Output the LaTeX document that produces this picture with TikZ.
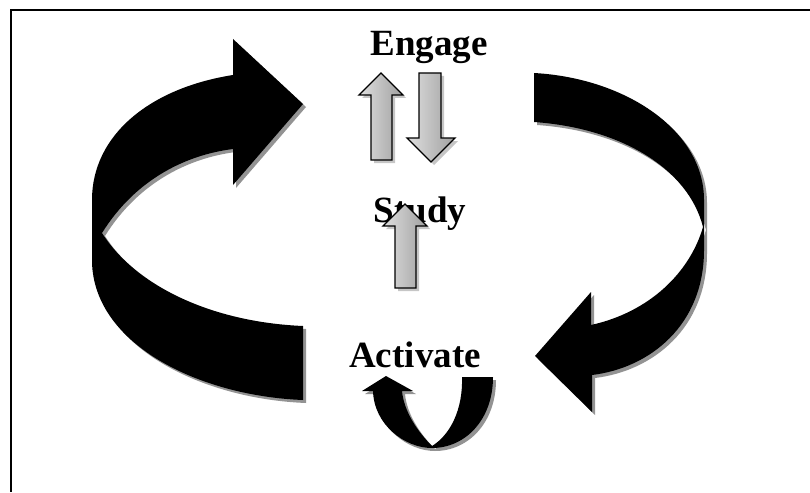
\documentclass[tikz,border=0pt]{standalone}
\usepackage{fontspec}
\setmainfont{Liberation Serif}

% outlines of the big arrows, in pixel units
\newcommand\leftloop{(303,104) -- (233,39) -- (233,75)
  .. controls (150,88) and (92,135) .. (92,200) -- (92,262)
  .. controls (94,345) and (200,396) .. (303,400) -- (303,326)
  .. controls (210,322) and (135,285) .. (102,233)
  .. controls (135,180) and (185,155) .. (233,149) -- (233,185) -- cycle}
\newcommand\rightloop{(534,73) .. controls (625,78) and (704,130) .. (704,200)
  -- (704,250) .. controls (704,325) and (650,368) .. (592,375)
  -- (592,412) -- (535,356) -- (591,292) -- (591,325)
  .. controls (650,312) and (690,272) .. (703,227)
  .. controls (688,168) and (620,128) .. (534,122) -- cycle}
\newcommand\uturn{(386,376) -- (362,391) -- (373,391)
  .. controls (374,425) and (405,448) .. (432,448)
  .. controls (465,448) and (493,420) .. (493,377) -- (462,377)
  .. controls (463,410) and (450,435) .. (432,446)
  .. controls (418,432) and (404,412) .. (402,391) -- (413,391) -- cycle}
\newcommand\blockup[3]{(#1,#2) -- (#1-22,#2+22) -- (#1-10,#2+22) -- (#1-10,#3)
  -- (#1+11,#3) -- (#1+11,#2+22) -- (#1+22,#2+22) -- cycle}
\newcommand\blockdown{(419,73) -- (441,73) -- (441,138) -- (455,138) -- (431,162)
  -- (407,138) -- (419,138) -- cycle}

\begin{document}
\begin{tikzpicture}[x=1pt, y=-1pt,
  label/.style={font=\fontsize{37}{40}\selectfont\bfseries, inner sep=0pt, anchor=base},
  ribbon/.style={fill=black},
  drop/.style={fill=gray!85, shift={(3,3)}},
  block/.style={draw=black, line width=1.3pt, left color=gray!25, right color=gray!75},
  blockdrop/.style={fill=gray!45, shift={(3,3)}}]

  \useasboundingbox (0,0) rectangle (810,492);
  \draw[line width=2pt] (810,10) -- (11,10) -- (11,492);

  % labels
  \node[label] (engage) at (429,56) {Engage};
  \node[label] (study) at (420,222) {Study};
  \node[label] (activate) at (415,367) {Activate};

  % big loops
  \fill[drop] \leftloop;
  \fill[ribbon] \leftloop;
  \fill[drop] \rightloop;
  \fill[ribbon] \rightloop;
  \fill[drop] \uturn;
  \fill[ribbon] \uturn;

  % small arrows
  \fill[blockdrop] \blockup{381}{73}{160};
  \path[block] \blockup{381}{73}{160};
  \fill[blockdrop] \blockdown;
  \path[block] \blockdown;
  \fill[blockdrop] \blockup{405}{204}{288};
  \path[block] \blockup{405}{204}{288};
\end{tikzpicture}
\end{document}
